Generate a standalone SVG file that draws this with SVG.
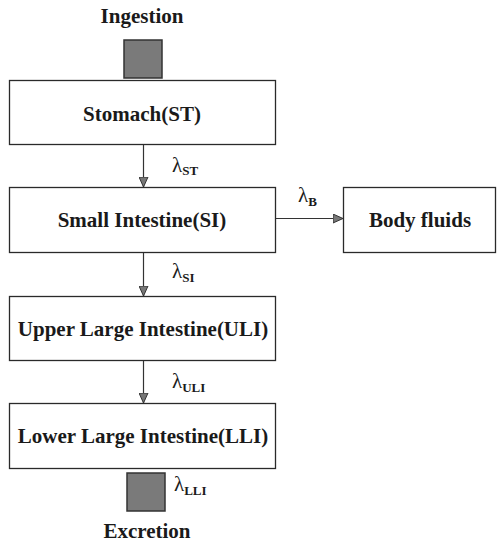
<svg xmlns="http://www.w3.org/2000/svg" width="500" height="542" viewBox="0 0 500 542">
<style>
.box{fill:#fff;stroke:#2a2a2a;stroke-width:1.3}
.sq{fill:#7a7a7a;stroke:#333;stroke-width:1.5}
.t{font-family:"Liberation Serif",serif;font-weight:bold;font-size:21px;fill:#1a1a1a;text-anchor:middle}
.lam{font-family:"Liberation Serif",serif;font-size:21px;fill:#1a1a1a}
.sub{font-size:13px;font-weight:bold}
.c{stroke:#333;stroke-width:1.2;fill:none}
</style>
<defs>
<marker id="ah" viewBox="0 0 10 10" refX="10" refY="5" markerWidth="10" markerHeight="10" markerUnits="userSpaceOnUse" orient="auto">
<path d="M0,0.5 L10,5 L0,9.5 Z" fill="#777" stroke="#333" stroke-width="1"/>
</marker>
</defs>
<g id="ingestion">
<text class="t" x="142" y="23">Ingestion</text>
<rect class="sq" x="124" y="40" width="38" height="38"/>
</g>
<g id="stomach">
<rect class="box" x="9.5" y="80.5" width="266" height="64"/>
<text class="t" x="142" y="121">Stomach(ST)</text>
</g>
<g id="small-intestine">
<rect class="box" x="9.5" y="187.5" width="266" height="65"/>
<text class="t" x="142" y="227">Small Intestine(SI)</text>
</g>
<g id="body-fluids">
<rect class="box" x="343.5" y="187.5" width="152" height="65"/>
<text class="t" x="420" y="227">Body fluids</text>
</g>
<g id="upper-large-intestine">
<rect class="box" x="9.5" y="296.5" width="266" height="64"/>
<text class="t" x="143" y="336">Upper Large Intestine(ULI)</text>
</g>
<g id="lower-large-intestine">
<rect class="box" x="9.5" y="403.5" width="266" height="65"/>
<text class="t" x="143" y="443">Lower Large Intestine(LLI)</text>
</g>
<g id="excretion">
<rect class="sq" x="127" y="473" width="38" height="38"/>
<text class="t" x="147" y="538">Excretion</text>
</g>
<g id="connectors">
<line class="c" x1="143.5" y1="145" x2="143.5" y2="187" marker-end="url(#ah)"/>
<line class="c" x1="276" y1="218.5" x2="343" y2="218.5" marker-end="url(#ah)"/>
<line class="c" x1="143.5" y1="253" x2="143.5" y2="296" marker-end="url(#ah)"/>
<line class="c" x1="143.5" y1="361" x2="143.5" y2="403" marker-end="url(#ah)"/>
</g>
<g id="labels">
<text class="lam" x="172" y="172">λ<tspan class="sub" dy="3">ST</tspan></text>
<text class="lam" x="298" y="202">λ<tspan class="sub" dy="4">B</tspan></text>
<text class="lam" x="172" y="278">λ<tspan class="sub" dy="4">SI</tspan></text>
<text class="lam" x="172" y="388">λ<tspan class="sub" dy="4">ULI</tspan></text>
<text class="lam" x="174" y="491">λ<tspan class="sub" dy="4">LLI</tspan></text>
</g>
</svg>
